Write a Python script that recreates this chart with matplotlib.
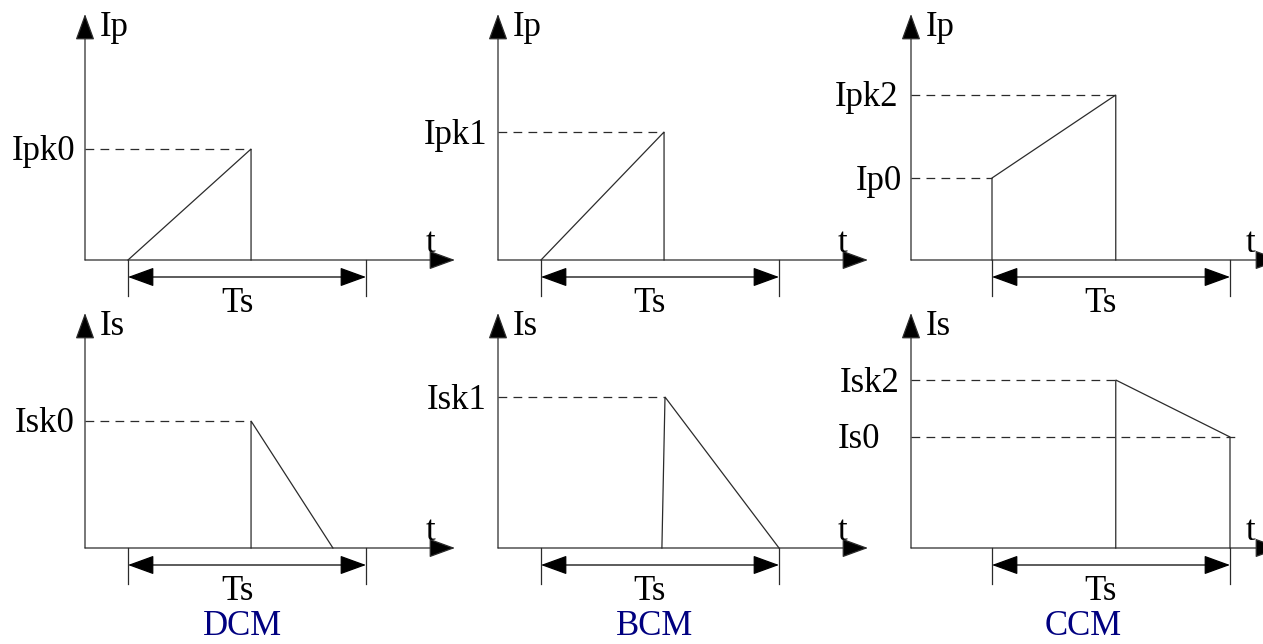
import matplotlib.pyplot as plt

# ==================== DATA ====================
# time in units of Ts (0 = start of switching period), current in arbitrary units
modes = ['DCM', 'BCM', 'CCM']

prim_t = {'DCM': [0, 0.517, 0.517], 'BCM': [0, 0.517, 0.517], 'CCM': [0, 0, 0.52, 0.52]}
prim_i = {'DCM': [0, 1.11, 0], 'BCM': [0, 1.28, 0], 'CCM': [0, 0.82, 1.65, 0]}
sec_t = {'DCM': [0.517, 0.517, 0.861], 'BCM': [0.508, 0.521, 1.0], 'CCM': [0.52, 0.52, 1.0, 1.0]}
sec_i = {'DCM': [0, 1.27, 0], 'BCM': [0, 1.51, 0], 'CCM': [0, 1.68, 1.11, 0]}

# (label, level, dashed line end in Ts)
prim_levels = {'DCM': [('Ipk0', 1.11, 0.517)],
               'BCM': [('Ipk1', 1.28, 0.517)],
               'CCM': [('Ipk2', 1.65, 0.52), ('Ip0', 0.82, 0.0)]}
sec_levels = {'DCM': [('Isk0', 1.27, 0.517)],
              'BCM': [('Isk1', 1.51, 0.521)],
              'CCM': [('Isk2', 1.68, 0.52), ('Is0', 1.11, 1.02)]}
label_gap = {'Ipk0': 10, 'Ipk1': 11, 'Ipk2': 13, 'Ip0': 9,
             'Isk0': 10, 'Isk1': 11, 'Isk2': 11, 'Is0': 31}
mode_x = {'DCM': 0.483, 'BCM': 0.479, 'CCM': 0.382}

# ==================== LAYOUT ====================
W, H = 1263, 644
PX_T, PX_I = 238, 100          # pixels per Ts / per current unit
t0_px = {'DCM': 128, 'BCM': 541, 'CCM': 992}
yaxis_px = {'DCM': 85, 'BCM': 498, 'CCM': 911}
t_shift = {'DCM': -25, 'BCM': -25, 'CCM': -30}
rows = [(260, 'Ip', prim_t, prim_i, prim_levels, 246),
        (548, 'Is', sec_t, sec_i, sec_levels, 235)]

LC = '#2b2b2b'
LW = 0.9
FONT = 'Liberation Serif'
FS = 25
head = '-|>,head_length=1.65,head_width=0.6'
dhead = '<|-|>,head_length=1.65,head_width=0.6'

fig = plt.figure(figsize=(W / 100, H / 100), dpi=100)

for m in modes:
    for base_px, ylab, ts, cs, levels, ylen in rows:
        ax = fig.add_axes([0, 0, 1, 1])
        ax.patch.set_alpha(0)
        ax.axis('off')
        x0 = t0_px[m]
        ax.set_xlim(-x0 / PX_T, (W - x0) / PX_T)
        ax.set_ylim(-(H - base_px) / PX_I, base_px / PX_I)

        ya = (yaxis_px[m] - x0) / PX_T
        xtip = ya + 370 / PX_T
        ytip = ylen / PX_I

        # axes with arrows
        ax.annotate('', xy=(ya, ytip), xytext=(ya, 0), annotation_clip=False,
                    arrowprops=dict(arrowstyle=head, mutation_scale=10, shrinkA=0, shrinkB=0,
                                    lw=LW, color=LC, fc='black'))
        ax.annotate('', xy=(xtip, 0), xytext=(ya, 0), annotation_clip=False,
                    arrowprops=dict(arrowstyle=head, mutation_scale=10, shrinkA=0, shrinkB=0,
                                    lw=LW, color=LC, fc='black'))
        ax.annotate(ylab, xy=(ya, ytip), xytext=(15, -22), textcoords='offset pixels',
                    fontsize=FS, family=FONT, ha='left', va='baseline')
        ax.annotate('t', xy=(xtip, 0), xytext=(t_shift[m], 8), textcoords='offset pixels',
                    annotation_clip=False, fontsize=FS, family=FONT, ha='center', va='baseline')

        # waveform
        ax.plot(ts[m], cs[m], color=LC, lw=LW, solid_joinstyle='miter')

        # dashed levels + labels
        for name, lev, tend in levels[m]:
            ax.plot([ya, tend], [lev, lev], color=LC, lw=LW, ls=(0, (7, 5)))
            ax.annotate(name, xy=(ya, lev), xytext=(-label_gap[name], -11.5),
                        textcoords='offset pixels', fontsize=FS, family=FONT,
                        ha='right', va='baseline')

        # Ts dimension
        tick = 36 / PX_I
        for tx in (0, 1):
            ax.plot([tx, tx], [0, -tick], color=LC, lw=LW)
        ax.annotate('', xy=(1, -0.17), xytext=(0, -0.17),
                    arrowprops=dict(arrowstyle=dhead, mutation_scale=10, shrinkA=0, shrinkB=0,
                                    lw=LW, color='black', fc='black'))
        ax.annotate('Ts', xy=(0.5, 0), xytext=(-10, -52), textcoords='offset pixels',
                    fontsize=FS, family=FONT, ha='center', va='baseline')

        if ylab == 'Is':
            ax.annotate(m, xy=(mode_x[m], 0), xytext=(0, -87), textcoords='offset pixels',
                        fontsize=FS, family=FONT, color='#000080', ha='center', va='baseline')

fig.savefig('out.png', dpi=100, facecolor='white')
